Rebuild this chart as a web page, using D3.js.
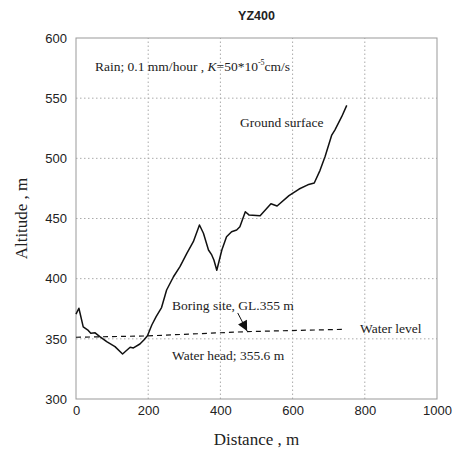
<!DOCTYPE html>
<html>
<head>
<meta charset="utf-8">
<script src="https://cdnjs.cloudflare.com/ajax/libs/d3/7.8.5/d3.min.js"></script>
<style>
  body { margin: 0; background: #fff; }
  svg { display: block; }
</style>
</head>
<body>
<div id="chart"></div>
<script>
// ground surface profile
var groundDist = [0, 8, 20, 34, 41, 53, 66, 85, 108, 129, 150, 159, 177, 188, 198, 210, 222, 237, 251, 270, 288, 307, 325, 342, 353, 367, 376, 382, 390, 404, 417, 431, 445, 454, 469, 479, 510, 540, 557, 590, 618, 642, 660, 676, 690, 708, 717, 736, 750];
var groundAlt  = [370.6, 375.4, 360, 357, 354.6, 355, 351.8, 347.6, 343.5, 337.4, 343, 342.4, 345.7, 349, 352.6, 361.5, 368.4, 376, 390.6, 401.6, 410, 421, 430.7, 444.6, 437.7, 423.8, 419.7, 415.5, 407, 423.8, 434.9, 439, 440.4, 443.2, 455.6, 453, 452.3, 462.3, 460.4, 469, 474.5, 478, 479.5, 490, 501.5, 519, 523.5, 534.6, 544];

// water level (dashed)
var waterDist = [0, 196, 473, 740];
var waterAlt  = [351.3, 352.4, 356, 357.9];

var xTicks = [0, 200, 400, 600, 800, 1000];
var yTicks = [300, 350, 400, 450, 500, 550, 600];

var width = 453, height = 454;
var margin = {top: 38, right: 16, bottom: 55, left: 76};

var svg = d3.select("#chart").append("svg")
    .attr("width", width)
    .attr("height", height);

var x = d3.scaleLinear().domain([0, 1000]).range([margin.left, width - margin.right]);
var y = d3.scaleLinear().domain([300, 600]).range([height - margin.bottom, margin.top]);

// grid
svg.append("g").selectAll("line").data(xTicks.slice(1, -1)).enter().append("line")
    .attr("x1", d => x(d)).attr("x2", d => x(d))
    .attr("y1", y(300)).attr("y2", y(600))
    .attr("stroke", "#aaa").attr("stroke-dasharray", "1.5,2.5");
svg.append("g").selectAll("line").data(yTicks.slice(1, -1)).enter().append("line")
    .attr("x1", x(0)).attr("x2", x(1000))
    .attr("y1", d => y(d)).attr("y2", d => y(d))
    .attr("stroke", "#aaa").attr("stroke-dasharray", "1.5,2.5");

// frame
svg.append("rect")
    .attr("x", x(0)).attr("y", y(600))
    .attr("width", x(1000) - x(0)).attr("height", y(300) - y(600))
    .attr("fill", "none").attr("stroke", "#999").attr("stroke-width", 1);

// axes (labels only)
var xAxis = svg.append("g")
    .attr("transform", "translate(0," + y(300) + ")")
    .call(d3.axisBottom(x).tickValues(xTicks).tickFormat(d3.format("d")).tickSize(0).tickPadding(7));
var yAxis = svg.append("g")
    .attr("transform", "translate(" + x(0) + ",0)")
    .call(d3.axisLeft(y).tickValues(yTicks).tickFormat(d3.format("d")).tickSize(0).tickPadding(9));
[xAxis, yAxis].forEach(function(a) {
    a.select(".domain").remove();
    a.selectAll("text").attr("font-family", "Liberation Sans, Arial, sans-serif")
        .attr("font-size", 13).attr("fill", "#222");
});

// lines
var line = d3.line().x(d => x(d[0])).y(d => y(d[1]));

svg.append("path")
    .datum(waterDist.map((d, i) => [d, waterAlt[i]]))
    .attr("d", line)
    .attr("fill", "none").attr("stroke", "#111").attr("stroke-width", 1.2)
    .attr("stroke-dasharray", "5,4");

svg.append("path")
    .datum(groundDist.map((d, i) => [d, groundAlt[i]]))
    .attr("d", line)
    .attr("fill", "none").attr("stroke", "#111").attr("stroke-width", 1.5)
    .attr("stroke-linejoin", "round");

// arrow to boring site
svg.append("defs").append("marker")
    .attr("id", "arr").attr("viewBox", "0 0 10 10")
    .attr("refX", 10).attr("refY", 5)
    .attr("markerUnits", "userSpaceOnUse")
    .attr("markerWidth", 12).attr("markerHeight", 10)
    .attr("orient", "auto")
    .append("path").attr("d", "M0,0L10,5L0,10z").attr("fill", "#111");
svg.append("line")
    .attr("x1", x(448)).attr("y1", y(371.5))
    .attr("x2", x(474)).attr("y2", y(356.5))
    .attr("stroke", "#111").attr("stroke-width", 1)
    .attr("marker-end", "url(#arr)");

// texts
var serif = "Liberation Serif, Times New Roman, serif";
function label(t, px, py, size) {
    return svg.append("text").attr("x", px).attr("y", py)
        .attr("font-family", serif).attr("font-size", size || 13.5)
        .attr("fill", "#222").text(t);
}

var rain = svg.append("text").attr("x", 95).attr("y", 71)
    .attr("font-family", serif).attr("font-size", 13.5).attr("fill", "#222");
rain.append("tspan").text("Rain; 0.1 mm/hour , ");
rain.append("tspan").attr("font-style", "italic").text("K");
rain.append("tspan").text("=50*10");
rain.append("tspan").attr("font-size", 8).attr("dy", -6).text("-5");
rain.append("tspan").attr("dy", 6).text("cm/s");

label("Ground surface", 240, 127);
label("Boring site, GL.355 m", 172, 310);
label("Water level", 360, 333);
label("Water head; 355.6 m", 172, 360);

svg.append("text")
    .attr("x", (x(0) + x(1000)) / 2).attr("y", 20)
    .attr("text-anchor", "middle")
    .attr("font-family", "Liberation Sans, Arial, sans-serif")
    .attr("font-weight", "bold").attr("font-size", 12.5).attr("fill", "#222")
    .text("YZ400");

svg.append("text")
    .attr("x", (x(0) + x(1000)) / 2).attr("y", 445)
    .attr("text-anchor", "middle")
    .attr("font-family", serif).attr("font-size", 17).attr("fill", "#222")
    .text("Distance , m");

svg.append("text")
    .attr("transform", "translate(27," + (y(300) + y(600)) / 2 + ") rotate(-90)")
    .attr("text-anchor", "middle")
    .attr("font-family", serif).attr("font-size", 17).attr("fill", "#222")
    .text("Altitude , m");
</script>
</body>
</html>
